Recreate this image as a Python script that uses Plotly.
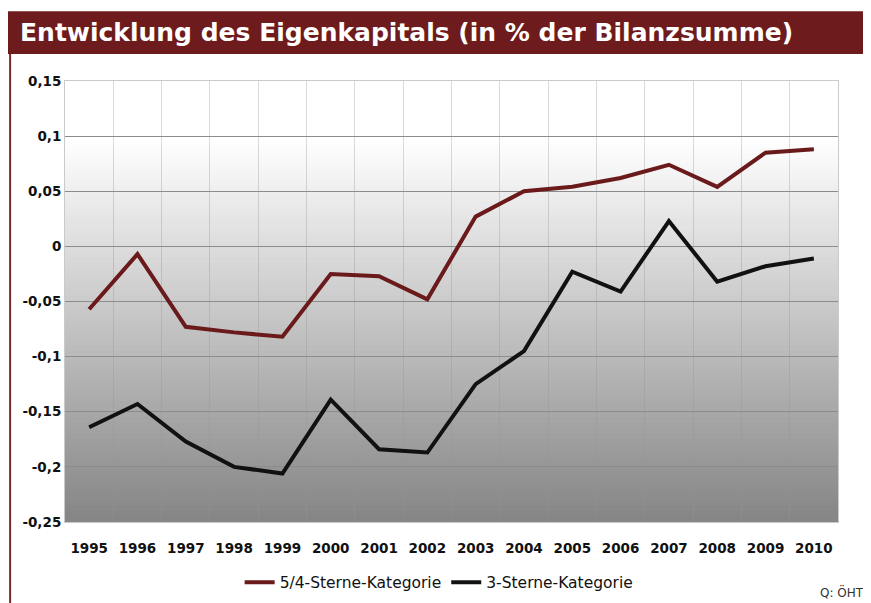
import plotly.graph_objects as go

years = [str(y) for y in range(1995, 2011)]
cat_54 = [-0.057, -0.007, -0.073, -0.078, -0.082, -0.025, -0.027, -0.048,
          0.027, 0.050, 0.054, 0.062, 0.074, 0.054, 0.085, 0.088]
cat_3 = [-0.164, -0.143, -0.177, -0.200, -0.206, -0.139, -0.184, -0.187,
         -0.125, -0.095, -0.023, -0.041, 0.023, -0.032, -0.018, -0.011]
y_tickvals = [0.15, 0.1, 0.05, 0, -0.05, -0.1, -0.15, -0.2, -0.25]
y_ticktext = ["0,15", "0,1", "0,05", "0", "-0,05", "-0,1", "-0,15", "-0,2", "-0,25"]

RED = "#6b1a1c"
BLACK = "#111111"
FONT = "DejaVu Sans"

fig = go.Figure()
fig.add_trace(go.Scatter(x=years, y=cat_54, mode="lines", name="5/4-Sterne-Kategorie",
                         line=dict(color=RED, width=4)))
fig.add_trace(go.Scatter(x=years, y=cat_3, mode="lines", name="3-Sterne-Kategorie",
                         line=dict(color=BLACK, width=4)))

shapes = []
# gradient background: bands from white (top) to grey (bottom)
n = 80
for i in range(n):
    t = i / n  # 0 at bottom
    f = min(1.0, t / 0.86)
    v = int(0x86 + (0xff - 0x86) * f)
    col = f"rgb({v},{v},{v})"
    shapes.append(dict(type="rect", xref="paper", yref="paper", x0=0, x1=1,
                       y0=i / n, y1=(i + 1) / n + 0.002, fillcolor=col,
                       line=dict(width=0), layer="below"))
# title bar
shapes.append(dict(type="rect", xref="paper", yref="paper", x0=-0.08, x1=1.05,
                   y0=1.061, y1=1.158, fillcolor="#6e1b1d", line=dict(width=0)))
# left border line
shapes.append(dict(type="line", xref="paper", yref="paper", x0=-0.071, x1=-0.071,
                   y0=-0.2, y1=1.061, line=dict(color="#7a2a2c", width=2)))

fig.update_layout(
    width=863, height=595,
    margin=dict(l=57, r=33, t=73, b=81),
    paper_bgcolor="white",
    plot_bgcolor="rgba(0,0,0,0)",
    shapes=shapes,
    showlegend=True,
    legend=dict(orientation="h", x=0.484, xanchor="center",
                yref="container", y=0.034, yanchor="middle",
                font=dict(family=FONT, size=15.5, color="#111"), bgcolor="rgba(0,0,0,0)",
                tracegroupgap=0),
    annotations=[
        dict(text="Entwicklung des Eigenkapitals (in % der Bilanzsumme)", xref="paper", yref="paper",
             x=-0.061, y=1.109, xanchor="left", yanchor="middle", showarrow=False,
             font=dict(family=FONT, size=25, color="white", weight="bold")),
        dict(text="Q: ÖHT", xref="paper", yref="paper", x=1.036, y=-0.159,
             xanchor="right", yanchor="middle", showarrow=False,
             font=dict(family=FONT, size=12, color="#333")),
    ],
    font=dict(family=FONT),
)
fig.update_xaxes(type="category", range=[-0.5, 15.5], tickson="boundaries",
                 showgrid=True, gridcolor="rgba(150,150,150,0.35)", gridwidth=1,
                 ticks="", showline=True, linecolor="rgba(150,150,150,0.5)", mirror=True,
                 ticklabelstandoff=14, automargin=False,
                 tickfont=dict(family=FONT, size=13.5, color="#111", weight="bold"))
fig.update_yaxes(range=[-0.25, 0.15], tickvals=y_tickvals, ticktext=y_ticktext,
                 showgrid=True, gridcolor="#8c8c8c", gridwidth=1,
                 zeroline=True, zerolinecolor="#8c8c8c", zerolinewidth=1,
                 ticks="", showline=True, linecolor="rgba(150,150,150,0.5)", mirror=True,
                 automargin=False,
                 tickfont=dict(family=FONT, size=13.5, color="#111", weight="bold"))
fig.write_html("out.html")
